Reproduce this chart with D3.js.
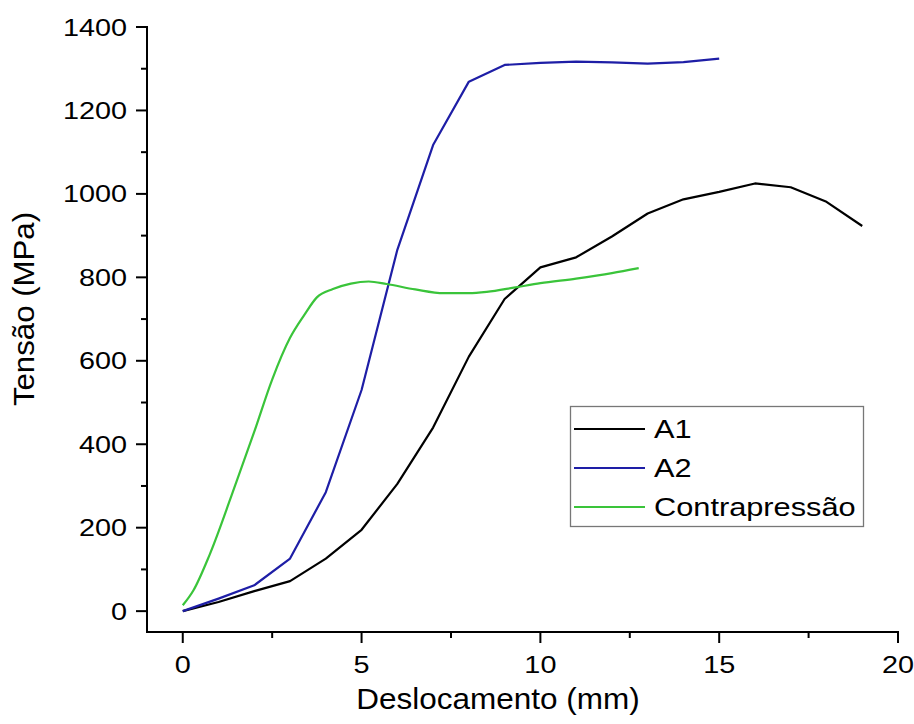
<!DOCTYPE html>
<html><head><meta charset="utf-8">
<script src="https://cdn.jsdelivr.net/npm/d3@7"></script>
<style>body{margin:0;background:#fff}svg{display:block}</style>
</head><body>
<script>
// Data
const a1X = [0,1,2,3,4,5,6,7,8,9,10,11,12,13,14,15,16,17,18,19];
const a1Y = [0,22,48,72,126,195,305,440,610,748,824,848,898,953,987,1005,1025,1016,981,923];
const a2X = [0,1,2,3,4,5,6,7,8,9,10,11,12,13,14,15];
const a2Y = [0,30,62,126,285,530,866,1117,1269,1309,1314,1317,1315,1312,1316,1324];
const cpX = [0,0.3,0.75,1.5,2.0,2.5,3.0,3.4,3.75,4.2,4.7,5.2,5.7,6.5,7.3,8.0,8.5,9.3,10,11,12,12.75];
const cpY = [14,50,135,310,430,555,655,710,752,772,785,790,784,771,762,762,765,776,786,797,810,822];
const seriesNames = ["A1","A2","Contrapressão"];
const seriesColors = ["#000000","#1e1ea6","#3ac43a"];
const xTicks = [0,5,10,15,20];
const yTicks = [0,200,400,600,800,1000,1200,1400];
const xTitle = "Deslocamento (mm)";
const yTitle = "Tensão (MPa)";

const W=914,H=724;
const svg=d3.select("body").append("svg").attr("width",W).attr("height",H);
const x=d3.scaleLinear().domain([-1,20]).range([147,898]);
const y=d3.scaleLinear().domain([-50,1400]).range([632,27]);
const font="'Liberation Sans', Arial, sans-serif";
const SX=1.2; // horizontal glyph stretch seen in the reference tick labels

// minor ticks
const xMinor=[2.5,7.5,12.5,17.5], yMinor=[100,300,500,700,900,1100,1300];
const gx=svg.append("g").attr("transform","translate(0,632)");
gx.append("line").attr("x1",146).attr("x2",x(20)+1).attr("y1",0).attr("y2",0).attr("stroke","#000").attr("stroke-width",2);
gx.selectAll(".mj").data(xTicks).join("line").attr("class","mj").attr("x1",d=>x(d)).attr("x2",d=>x(d)).attr("y1",0).attr("y2",11).attr("stroke","#000").attr("stroke-width",2);
gx.selectAll(".mn").data(xMinor).join("line").attr("class","mn").attr("x1",d=>x(d)).attr("x2",d=>x(d)).attr("y1",0).attr("y2",6).attr("stroke","#000").attr("stroke-width",2);
gx.selectAll("text").data(xTicks).join("text").attr("transform",d=>`translate(${x(d)},41) scale(${SX},1)`).attr("text-anchor","middle")
  .attr("font-family",font).attr("font-size",24).text(d=>d);

const gy=svg.append("g").attr("transform","translate(147,0)");
gy.append("line").attr("x1",0).attr("x2",0).attr("y1",y(1400)-1).attr("y2",633).attr("stroke","#000").attr("stroke-width",2);
gy.selectAll(".mj").data(yTicks).join("line").attr("class","mj").attr("x1",-11).attr("x2",0).attr("y1",d=>y(d)).attr("y2",d=>y(d)).attr("stroke","#000").attr("stroke-width",2);
gy.selectAll(".mn").data(yMinor).join("line").attr("class","mn").attr("x1",-6).attr("x2",0).attr("y1",d=>y(d)).attr("y2",d=>y(d)).attr("stroke","#000").attr("stroke-width",2);
gy.selectAll("text").data(yTicks).join("text").attr("transform",d=>`translate(-20,${y(d)+8.5}) scale(${SX},1)`).attr("text-anchor","end")
  .attr("font-family",font).attr("font-size",24).text(d=>d);

svg.append("text").attr("transform",`translate(498,709) scale(1.05,1)`).attr("text-anchor","middle").attr("font-family",font).attr("font-size",30).text(xTitle);
svg.append("text").attr("transform",`translate(34,309) rotate(-90) scale(1.04,1)`).attr("text-anchor","middle").attr("font-family",font).attr("font-size",30).text(yTitle);

const series=[[a1X,a1Y],[a2X,a2Y],[cpX,cpY]];
const line=d3.line().x(d=>x(d[0])).y(d=>y(d[1]));
series.forEach((s,i)=>{
  const pts=s[0].map((v,j)=>[v,s[1][j]]);
  svg.append("path").attr("d", i===2 ? line.curve(d3.curveMonotoneX)(pts) : line.curve(d3.curveLinear)(pts))
    .attr("fill","none").attr("stroke",seriesColors[i]).attr("stroke-width",2.2).attr("stroke-linejoin","round");
});

// legend
const lg=svg.append("g");
lg.append("rect").attr("x",570.5).attr("y",406.5).attr("width",293).attr("height",120).attr("fill","#fff").attr("stroke","#777").attr("stroke-width",1.3);
seriesNames.forEach((n,i)=>{
  const yy=429+i*39;
  lg.append("line").attr("x1",574).attr("x2",645).attr("y1",yy).attr("y2",yy).attr("stroke",seriesColors[i]).attr("stroke-width",2.2);
  lg.append("text").attr("transform",`translate(654,${yy+9}) scale(1.23,1)`).attr("font-family",font).attr("font-size",25).text(n);
});
</script>
</body></html>
